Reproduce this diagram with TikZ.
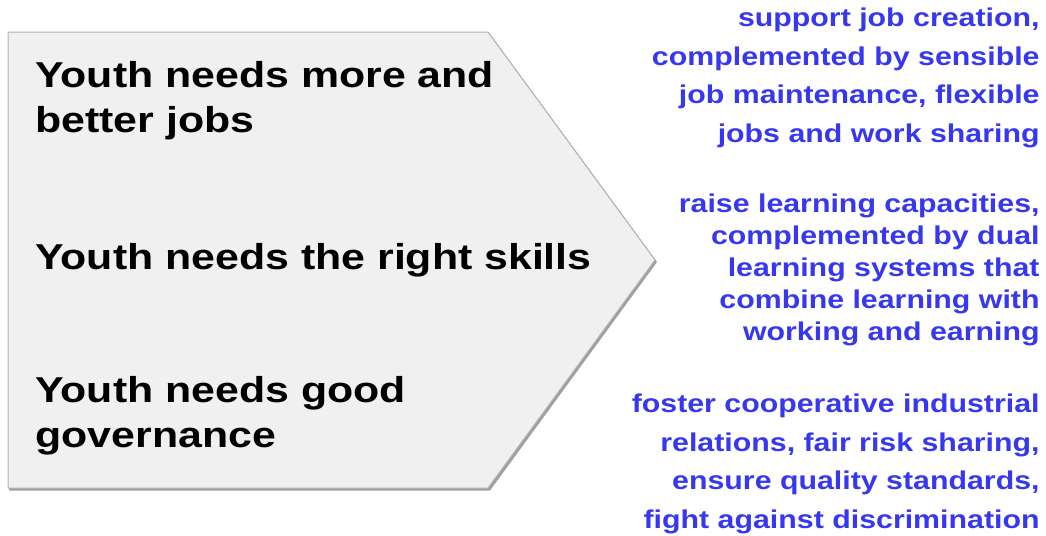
\documentclass[tikz,border=0pt]{standalone}
\usepackage{fontspec}
\setmainfont{Liberation Sans}
\newfontfamily\widebold[FakeStretch=1.18]{Liberation Sans Bold}
\newfontfamily\widerbold[FakeStretch=1.19]{Liberation Sans Bold}
\definecolor{chevfill}{RGB}{240,240,240}
\definecolor{bluetext}{RGB}{55,55,240}
\begin{document}
\begin{tikzpicture}[x=0.5pt,y=-0.5pt,
  need/.style={anchor=base west,inner sep=0pt,align=left,
    font=\widerbold\fontsize{18pt}{22.2pt}\selectfont,text=black},
  measure/.style={anchor=base east,inner sep=0pt,align=right,
    font=\widebold\fontsize{12.85pt}{19.25pt}\selectfont,text=bluetext},
  chevshape/.style={fill=chevfill,draw=gray!60,line width=0.5pt},
  chevshadow/.style={fill=gray!75,draw=none}]
\useasboundingbox (0,0) rectangle (1046,536);
% chevron with drop shadow
\fill[chevshadow] (9,34) -- (490,34) -- (657,262) -- (490,490.5) -- (9,490.5) -- cycle;
\path[chevshape] (8,32) -- (488,32) -- (655,260) -- (488,488) -- (8,488) -- cycle;
% left texts (anchor at baseline of last line)
\node[need] (n1) at (35,132) {Youth needs more and\\better jobs};
\node[need] (n2) at (35,269) {Youth needs the right skills};
\node[need] (n3) at (35,447) {Youth needs good\\governance};
% right texts (anchor at baseline of last line)
\node[measure] (m1) at (1040,142) {support job creation,\\complemented by sensible\\job maintenance, flexible\\jobs and work sharing};
\node[measure,font=\widebold\fontsize{12.85pt}{16pt}\selectfont] (m2) at (1040,340) {raise learning capacities,\\complemented by dual\\learning systems that\\combine learning with\\working and earning};
\node[measure] (m3) at (1040,528) {foster cooperative industrial\\relations, fair risk sharing,\\ensure quality standards,\\fight against discrimination};
\end{tikzpicture}
\end{document}
